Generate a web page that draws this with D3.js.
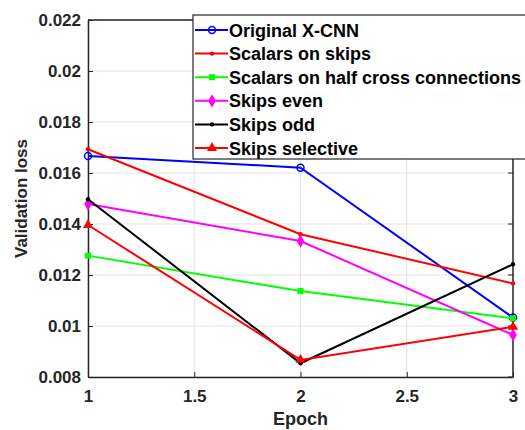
<!DOCTYPE html>
<html>
<head>
<meta charset="utf-8">
<script src="https://cdn.jsdelivr.net/npm/d3@7"></script>
<style>
  body { margin: 0; background: #fff; }
  text { font-family: "Liberation Sans", Arial, sans-serif; font-weight: bold; }
</style>
</head>
<body>
<svg width="525" height="430"></svg>
<script>
const epochs = [1, 2, 3];
const seriesNames = ["Original X-CNN", "Scalars on skips", "Scalars on half cross connections", "Skips even", "Skips odd", "Skips selective"];
const originalXCNN = [0.01667, 0.01621, 0.01033];
const scalarsOnSkips = [0.01693, 0.0136, 0.01167];
const scalarsHalfCross = [0.01276, 0.01137, 0.0103];
const skipsEven = [0.01478, 0.01333, 0.00965];
const skipsOdd = [0.01497, 0.00854, 0.01242];
const skipsSelective = [0.01396, 0.00867, 0.00997];
const yTicks = [0.008, 0.01, 0.012, 0.014, 0.016, 0.018, 0.02, 0.022];
const xTicks = [1, 1.5, 2, 2.5, 3];

const series = [
  { name: seriesNames[0], values: originalXCNN, color: "#0000ff", marker: "circle" },
  { name: seriesNames[1], values: scalarsOnSkips, color: "#ff0000", marker: "dot" },
  { name: seriesNames[2], values: scalarsHalfCross, color: "#00ff00", marker: "square" },
  { name: seriesNames[3], values: skipsEven, color: "#ff00ff", marker: "diamond" },
  { name: seriesNames[4], values: skipsOdd, color: "#000000", marker: "dot" },
  { name: seriesNames[5], values: skipsSelective, color: "#ff0000", marker: "triangle" }
];

const margin = { top: 20, right: 12, bottom: 53, left: 88 };
const width = 525 - margin.left - margin.right;
const height = 430 - margin.top - margin.bottom;

const svg = d3.select("svg")
  .append("g")
  .attr("transform", `translate(${margin.left},${margin.top})`);

const x = d3.scaleLinear().domain([1, 3]).range([0, width]);
const y = d3.scaleLinear().domain([0.008, 0.022]).range([height, 0]);

// grid
svg.selectAll(".grid-y")
  .data(yTicks)
  .enter().append("line")
  .attr("x1", 0).attr("x2", width)
  .attr("y1", d => y(d)).attr("y2", d => y(d))
  .style("stroke", "#e3e3e3");

svg.selectAll(".grid-x")
  .data(xTicks)
  .enter().append("line")
  .attr("x1", d => x(d)).attr("x2", d => x(d))
  .attr("y1", 0).attr("y2", height)
  .style("stroke", "#e3e3e3");

// axes
const xAxis = svg.append("g")
  .attr("transform", `translate(0,${height})`)
  .call(d3.axisBottom(x).tickValues(xTicks).tickFormat(d3.format("")).tickSizeInner(-5).tickSizeOuter(0).tickPadding(13));
const yAxis = svg.append("g")
  .call(d3.axisLeft(y).tickValues(yTicks).tickFormat(d => +d.toFixed(3) + "").tickSizeInner(-5).tickSizeOuter(0).tickPadding(7));

[xAxis, yAxis].forEach(a => {
  a.selectAll("text").style("font-size", "17px").style("fill", "#262626");
  a.selectAll("line").style("stroke", "#262626");
  a.select(".domain").style("stroke", "#262626").style("stroke-width", 1.5);
});

// top and right border
svg.append("line").attr("x1", 0).attr("x2", width).attr("y1", 0).attr("y2", 0)
  .style("stroke", "#262626").style("stroke-width", 1.5);
svg.append("line").attr("x1", width).attr("x2", width).attr("y1", 0).attr("y2", height)
  .style("stroke", "#262626").style("stroke-width", 1.5);
// right axis ticks
svg.selectAll(".rtick").data(yTicks).enter().append("line")
  .attr("x1", width - 5).attr("x2", width)
  .attr("y1", d => y(d)).attr("y2", d => y(d))
  .style("stroke", "#262626");

const line = d3.line()
  .x((d, i) => x(epochs[i]))
  .y(d => y(d));

function drawMarker(g, type, color, cx, cy) {
  if (type === "circle") {
    g.append("circle").attr("cx", cx).attr("cy", cy).attr("r", 3.5)
      .attr("fill", "none").attr("stroke", color).attr("stroke-width", 1.5);
  } else if (type === "dot") {
    g.append("circle").attr("cx", cx).attr("cy", cy).attr("r", 2.2).attr("fill", color);
  } else if (type === "square") {
    g.append("rect").attr("x", cx - 3).attr("y", cy - 3).attr("width", 6).attr("height", 6)
      .attr("fill", color);
  } else if (type === "diamond") {
    g.append("path").attr("d", d3.symbol(d3.symbolDiamond, 50)()).attr("transform", `translate(${cx},${cy})`)
      .attr("fill", color);
  } else if (type === "triangle") {
    g.append("path").attr("d", d3.symbol(d3.symbolTriangle, 45)()).attr("transform", `translate(${cx},${cy})`)
      .attr("fill", color);
  }
}

series.forEach(s => {
  svg.append("path")
    .datum(s.values)
    .attr("fill", "none")
    .attr("stroke", s.color)
    .attr("stroke-width", 2)
    .attr("d", line);
  const mg = svg.append("g");
  s.values.forEach((v, i) => drawMarker(mg, s.marker, s.color, x(epochs[i]), y(v)));
});

// axis titles
svg.append("text")
  .attr("x", width / 2)
  .attr("y", height + 48)
  .attr("text-anchor", "middle")
  .style("font-size", "18px")
  .style("fill", "#262626")
  .text("Epoch");

svg.append("text")
  .attr("transform", "rotate(-90)")
  .attr("x", -height / 2)
  .attr("y", -61)
  .attr("text-anchor", "middle")
  .style("font-size", "17px")
  .style("fill", "#262626")
  .text("Validation loss");

// legend
const legend = d3.select("svg").append("g").attr("transform", "translate(193,15)");
legend.append("rect")
  .attr("x", 0).attr("y", 0).attr("width", 340).attr("height", 144)
  .attr("fill", "#fff").attr("stroke", "#262626").attr("stroke-width", 1.2);

series.forEach((s, i) => {
  const row = legend.append("g").attr("transform", `translate(0,${15 + i * 23.6})`);
  row.append("line").attr("x1", 2).attr("x2", 35).attr("y1", 0).attr("y2", 0)
    .attr("stroke", s.color).attr("stroke-width", 2);
  drawMarker(row, s.marker, s.color, 19, 0);
  row.append("text")
    .attr("x", 36).attr("y", 6.5)
    .style("font-size", "18px")
    .style("fill", "#000")
    .text(s.name);
});
</script>
</body>
</html>
